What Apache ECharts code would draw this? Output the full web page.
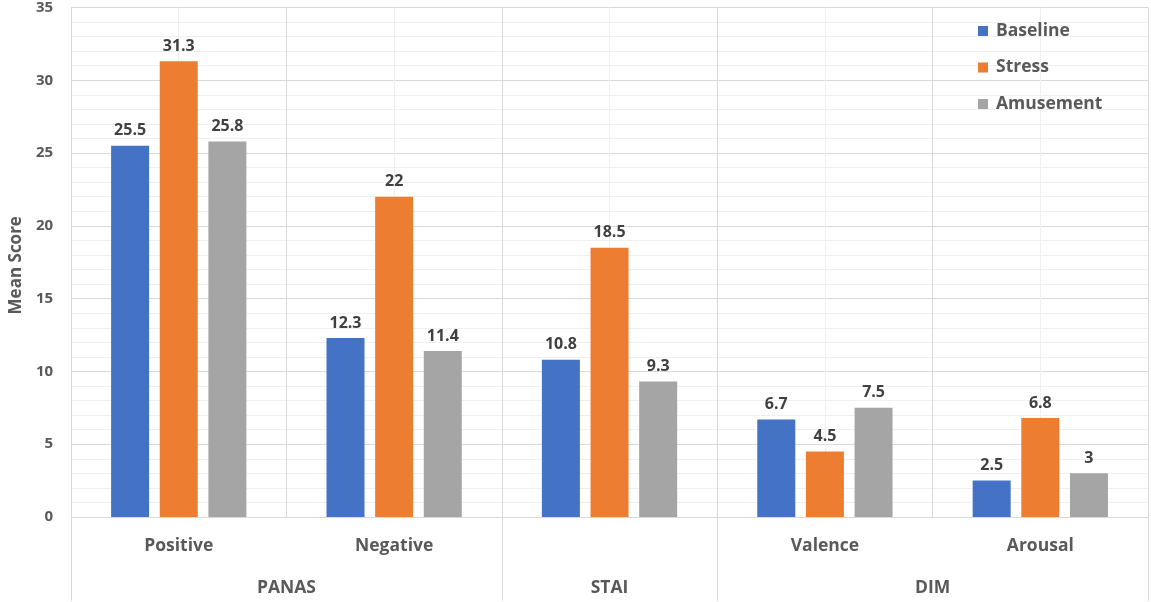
<!DOCTYPE html>
<html>
<head>
<meta charset="utf-8">
<script src="https://cdn.jsdelivr.net/npm/echarts@6/dist/echarts.min.js"></script>
<style>
  html, body { margin: 0; padding: 0; background: #fff; }
  #chart { width: 1151px; height: 602px; }
</style>
</head>
<body>
<div id="chart"></div>
<script>
// Measures and their questionnaire groups
const categories = ['Positive', 'Negative', '', 'Valence', 'Arousal'];
// Group labels sit on a half-step axis (11 positions across the 5 categories)
const groupTicks = ['', '', 'PANAS', '', '', 'STAI', '', '', 'DIM', '', ''];
const groupSeparators = [0, 4, 6, 10];

const seriesNames = ['Baseline', 'Stress', 'Amusement'];
const baseline  = [25.5, 12.3, 10.8, 6.7, 2.5];
const stress    = [31.3, 22, 18.5, 4.5, 6.8];
const amusement = [25.8, 11.4, 9.3, 7.5, 3];

const colors = ['#4472C4', '#ED7D31', '#A5A5A5'];
const FONT = '"Open Sans", "DejaVu Sans", sans-serif';

function barSeries(name, data, color) {
  return {
    name: name,
    type: 'bar',
    data: data,
    xAxisIndex: 0,
    barWidth: 38,
    barGap: '28%',
    itemStyle: { color: color },
    label: {
      show: true,
      position: 'top',
      distance: 7,
      color: '#404040',
      fontFamily: FONT,
      fontWeight: 'bold',
      fontSize: 16
    }
  };
}

const chart = echarts.init(document.getElementById('chart'));
chart.setOption({
  animation: false,
  textStyle: { fontFamily: FONT },
  grid: { left: 66, right: 2, top: 7, bottom: 85, containLabel: false },
  legend: {
    orient: 'vertical',
    left: 978,
    top: 22,
    padding: 0,
    icon: 'rect',
    itemWidth: 10,
    itemHeight: 10,
    itemGap: 18.5,
    data: seriesNames,
    textStyle: {
      color: '#595959', fontFamily: FONT, fontWeight: 'bold', fontSize: 17.5,
      padding: [0, 0, 0, 3]
    }
  },
  xAxis: [
    {
      type: 'category',
      data: categories,
      boundaryGap: true,
      axisLine: { show: true, lineStyle: { color: '#d9d9d9', width: 1 } },
      axisTick: { show: false },
      axisLabel: {
        interval: 0, margin: 20,
        color: '#595959', fontFamily: FONT, fontWeight: 'bold', fontSize: 17.5
      },
      splitLine: { show: true, interval: 0, lineStyle: { color: '#d9d9d9', width: 1 } }
    },
    {
      type: 'category',
      data: groupTicks,
      boundaryGap: false,
      position: 'bottom',
      axisLine: { show: false },
      axisTick: {
        show: true,
        length: 84,
        interval: function (index) { return groupSeparators.indexOf(index) >= 0; },
        lineStyle: { color: '#d9d9d9', width: 1 }
      },
      axisLabel: {
        interval: 0, margin: 62,
        color: '#595959', fontFamily: FONT, fontWeight: 'bold', fontSize: 17.5
      },
      splitLine: {
        show: true,
        interval: function (index) { return index % 2 === 1; },
        lineStyle: { color: '#f0f0f0', width: 1 }
      }
    }
  ],
  yAxis: {
    type: 'value',
    min: 0,
    max: 35,
    interval: 5,
    name: 'Mean Score',
    nameLocation: 'middle',
    nameGap: 42,
    nameTextStyle: {
      color: '#595959', fontFamily: FONT, fontWeight: 'bold', fontSize: 17,
      padding: [0, 6, 0, 0]
    },
    axisLine: { show: false },
    axisTick: { show: false },
    axisLabel: { margin: 18, color: '#595959', fontFamily: FONT, fontWeight: 'bold', fontSize: 15 },
    splitLine: { show: true, lineStyle: { color: '#d9d9d9', width: 1 } },
    minorTick: { show: false, splitNumber: 5 },
    minorSplitLine: { show: true, lineStyle: { color: '#f0f0f0', width: 1 } }
  },
  series: [
    barSeries(seriesNames[0], baseline, colors[0]),
    barSeries(seriesNames[1], stress, colors[1]),
    barSeries(seriesNames[2], amusement, colors[2])
  ]
});
</script>
</body>
</html>
